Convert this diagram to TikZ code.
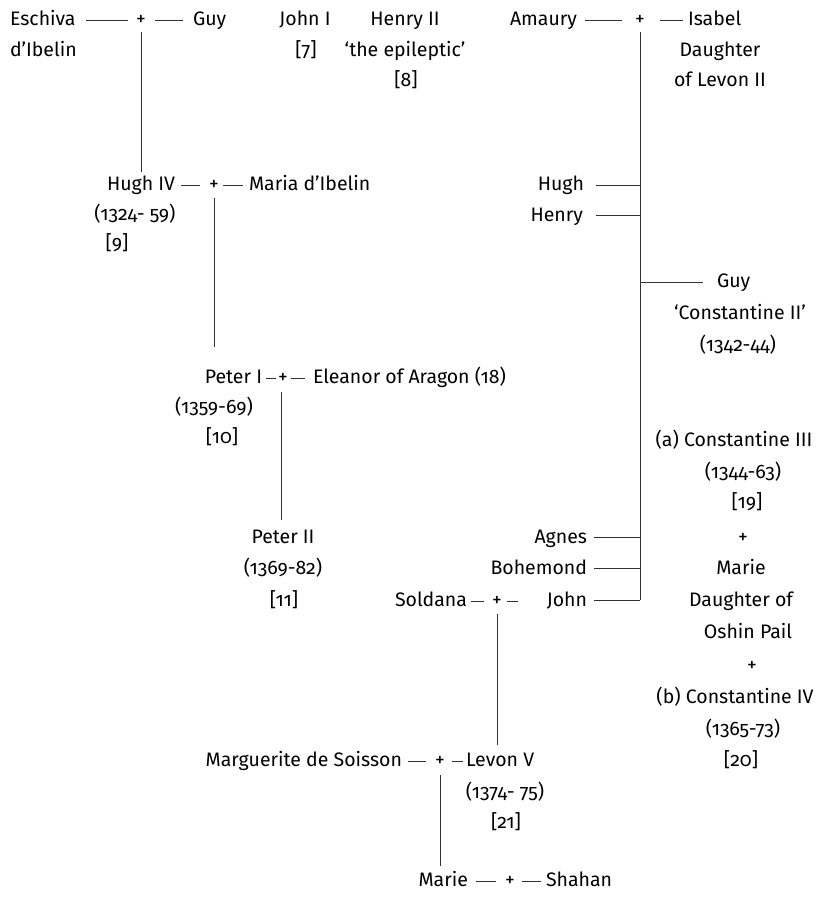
\documentclass[tikz,border=0pt]{standalone}
\usepackage{fontspec}
\setmainfont{Fira Sans}[Numbers=OldStyle]
\begin{document}
\begin{tikzpicture}[x=1pt,y=-1pt,
  every node/.style={font=\fontsize{19.5}{22}\selectfont, inner sep=0pt, outer sep=0pt},
  nm/.style={anchor=base, yshift=-6.5pt},
  nw/.style={anchor=base west, yshift=-6.5pt},
  ne/.style={anchor=base east, yshift=-6.5pt},
  link/.style={draw=black!80, line width=0.7pt}]
\useasboundingbox (0,0) rectangle (817,899);

% ---- top row ----
\node[nw] (eschiva) at (10,19) {Eschiva};
\node[nw] (eschiva2) at (10,50) {d’Ibelin};
\node[nm] (m1) at (141,19) {+};
\node[nw] (guy) at (193,19) {Guy};
\node[nm] (john1) at (305,19) {John I};
\node[nm] (john1n) at (306,50) {[7]};
\node[nm] (henry2) at (405,19) {Henry II};
\node[nm] (henry2b) at (405,50) {‘the epileptic’};
\node[nm] (henry2n) at (406,80) {[8]};
\node[nw] (amaury) at (510,19) {Amaury};
\node[nm] (m2) at (640,19) {+};
\node[nw] (isabel) at (688,19) {Isabel};
\node[nm] (isabel2) at (720,50) {Daughter};
\node[nm] (isabel3) at (720,80) {of Levon II};

\draw[link] (86,20) -- (128,20);
\draw[link] (155,20) -- (183,20);
\draw[link] (585,20) -- (622,20);
\draw[link] (660,20) -- (683,20);

% ---- Hugh IV ----
\node[ne] (hugh4) at (175,184) {Hugh IV};
\node[nm] (hugh4d) at (135,214) {(1324- 59)};
\node[nm] (hugh4n) at (117,243) {[9]};
\node[nm] (m3) at (214,184) {+};
\node[nw] (maria) at (249,184) {Maria d’Ibelin};
\draw[link] (181,185) -- (200,185);
\draw[link] (223,185) -- (243,185);
\coordinate (v1top) at (141,32);
\coordinate (v1bot) at (141,172);
\draw[link] (v1top) -- (v1bot);

% ---- children of Amaury and Isabel ----
\coordinate (v2top) at (640,32);
\coordinate (v2bot) at (640,600);
\draw[link] (v2top) -- (v2bot);
\node[ne] (hugh) at (584,184) {Hugh};
\node[ne] (henry) at (583,215) {Henry};
\draw[link] (596,185) -- (640,185);
\draw[link] (596,215) -- (640,215);
\node[nw] (guy2) at (717,281) {Guy};
\node[nm] (guy2b) at (740,313) {‘Constantine II’};
\node[nm] (guy2d) at (738,345) {(1342-44)};
\draw[link] (640,282) -- (703,282);

% ---- Peter I ----
\coordinate (v3top) at (214,198);
\coordinate (v3bot) at (214,347);
\draw[link] (v3top) -- (v3bot);
\node[ne] (peter1) at (262,377) {Peter I};
\node[nm] (m4) at (283,377) {+};
\node[nw] (eleanor) at (313,377) {Eleanor of Aragon (18)};
\node[nm] (peter1d) at (214,407) {(1359-69)};
\node[nm] (peter1n) at (222,437) {[10]};
\draw[link] (266,378) -- (276,378);
\draw[link] (291,378) -- (305,378);
\coordinate (v4top) at (281,392);
\coordinate (v4bot) at (281,520);
\draw[link] (v4top) -- (v4bot);

% ---- Peter II ----
\node[nm] (peter2) at (283,537) {Peter II};
\node[nm] (peter2d) at (283,568) {(1369-82)};
\node[nm] (peter2n) at (284,600) {[11]};

% ---- Agnes, Bohemond, John ----
\node[ne] (agnes) at (587,537) {Agnes};
\node[ne] (bohemond) at (587,568) {Bohemond};
\node[ne] (john) at (587,600) {John};
\draw[link] (594,537) -- (640,537);
\draw[link] (594,568) -- (640,568);
\draw[link] (594,600) -- (640,600);
\node[ne] (soldana) at (467,600) {Soldana};
\node[nm] (m5) at (497,600) {+};
\draw[link] (471,601) -- (484,601);
\draw[link] (507,601) -- (518,601);
\coordinate (v5top) at (497,614);
\coordinate (v5bot) at (497,745);
\draw[link] (v5top) -- (v5bot);

% ---- Constantine III and IV ----
\node[nm] (c3) at (734,440) {(a) Constantine III};
\node[nm] (c3d) at (743,472) {(1344-63)};
\node[nm] (c3n) at (747,502) {[19]};
\node[nm] (m6) at (743,537) {+};
\node[nm] (marie1) at (741,568) {Marie};
\node[nm] (marie1b) at (741,600) {Daughter of};
\node[nm] (marie1c) at (748,632) {Oshin Pail};
\node[nm] (m7) at (752,665) {+};
\node[nm] (c4) at (735,697) {(b) Constantine IV};
\node[nm] (c4d) at (743,729) {(1365-73)};
\node[nm] (c4n) at (741,760) {[20]};

% ---- Levon V ----
\node[ne] (marguerite) at (402,760) {Marguerite de Soisson};
\node[nm] (m8) at (440,760) {+};
\node[nw] (levon) at (466,760) {Levon V};
\node[nm] (levond) at (505,792) {(1374- 75)};
\node[nm] (levonn) at (506,822) {[21]};
\draw[link] (408,761) -- (426,761);
\draw[link] (452,761) -- (463,761);
\coordinate (v6top) at (440,775);
\coordinate (v6bot) at (440,866);
\draw[link] (v6top) -- (v6bot);

% ---- Marie and Shahan ----
\node[ne] (marie2) at (468,880) {Marie};
\node[nm] (m9) at (510,880) {+};
\node[nw] (shahan) at (546,880) {Shahan};
\draw[link] (476,881) -- (496,881);
\draw[link] (522,881) -- (541,881);
\end{tikzpicture}
\end{document}
